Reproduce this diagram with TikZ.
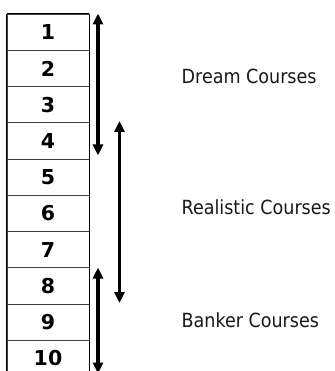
\documentclass[tikz,border=0pt]{standalone}
\usepackage{fontspec}
\setmainfont{DejaVu Sans}
\newfontfamily\labfont{DejaVu Sans Condensed}
\usetikzlibrary{arrows.meta}
\tikzset{
  cell/.style={draw=black!75, line width=0.8pt, minimum width=82pt, minimum height=36.2pt,
    inner sep=0pt, font=\fontsize{20.5}{20.5}\selectfont\bfseries, text=black},
  bigarrow/.style={line width=3.2pt, {Triangle[width=10pt,length=11pt]}-{Triangle[width=10pt,length=11pt]}},
  lab/.style={anchor=west, inner sep=0pt, font=\labfont\fontsize{19.5}{19.5}\selectfont, text=black!90}
}
\begin{document}
\begin{tikzpicture}[x=1pt,y=-1pt]
\useasboundingbox[fill=white] (0,0) rectangle (334,371);
\foreach \i in {1,...,10} {
  \node[cell] (r\i) at (48, {14.3+36.2*(\i-0.5)}) {\i};
}
\draw[black, line width=1.2pt] (r1.north west) -- (r10.south west);
\draw[black, line width=1.2pt] (r1.north east) -- (r10.south east);
\draw[black, line width=1.2pt] (r1.north west) -- (r1.north east);
% arrows
\coordinate (dA) at (98,13.5);
\coordinate (dB) at (98,155.5);
\coordinate (rA) at (119.5,121);
\coordinate (rB) at (119.5,303);
\coordinate (bA) at (98,267.5);
\coordinate (bB) at (98,373.5);
\draw[bigarrow] (dA) -- (dB);
\draw[bigarrow] (rA) -- (rB);
\draw[bigarrow] (bA) -- (bB);
% labels
\node[lab] (ldream) at (181.5,76.7) {Dream Courses};
\node[lab] (lreal) at (181.5,207.7) {Realistic Courses};
\node[lab] (lbank) at (181.5,320) {Banker Courses};
\end{tikzpicture}
\end{document}
